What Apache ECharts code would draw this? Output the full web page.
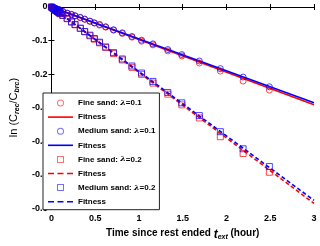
<!DOCTYPE html>
<html><head><meta charset="utf-8">
<script src="https://cdn.jsdelivr.net/npm/echarts@6/dist/echarts.min.js"></script>
<style>html,body{margin:0;padding:0;background:#fff}#c{width:320px;height:246px}</style>
</head><body><div id="c"></div>
<script>
// sample times (hours)
var times = [0, 0.01, 0.02, 0.03, 0.04, 0.05, 0.06, 0.07, 0.08, 0.09, 0.10, 0.13, 0.18, 0.23, 0.27, 0.33, 0.38, 0.44, 0.49, 0.55, 0.62, 0.71, 0.81, 0.92, 1.03, 1.16, 1.33, 1.49, 1.69, 1.93, 2.19, 2.49];
var fine01 = [0, -0.001, -0.002, -0.003, -0.004, -0.005, -0.006, -0.007, -0.008, -0.009, -0.010, -0.014, -0.019, -0.023, -0.027, -0.032, -0.037, -0.043, -0.048, -0.054, -0.060, -0.069, -0.079, -0.090, -0.102, -0.113, -0.131, -0.146, -0.167, -0.191, -0.221, -0.248];
var medium01 = [0, -0.001, -0.002, -0.003, -0.004, -0.005, -0.006, -0.007, -0.008, -0.009, -0.009, -0.013, -0.018, -0.022, -0.026, -0.031, -0.036, -0.042, -0.047, -0.052, -0.059, -0.068, -0.077, -0.088, -0.099, -0.110, -0.127, -0.142, -0.161, -0.184, -0.209, -0.238];
var fine02 = [0, -0.002, -0.004, -0.006, -0.008, -0.010, -0.012, -0.014, -0.016, -0.018, -0.020, -0.025, -0.035, -0.045, -0.053, -0.064, -0.074, -0.086, -0.096, -0.107, -0.121, -0.139, -0.158, -0.180, -0.201, -0.227, -0.260, -0.292, -0.331, -0.387, -0.437, -0.493];
var medium02 = [0, -0.002, -0.004, -0.006, -0.008, -0.010, -0.012, -0.013, -0.015, -0.017, -0.019, -0.025, -0.034, -0.044, -0.052, -0.063, -0.073, -0.084, -0.094, -0.105, -0.119, -0.136, -0.155, -0.176, -0.197, -0.222, -0.255, -0.286, -0.324, -0.372, -0.423, -0.476];
// fitted lines (endpoints)
var fitTimes = [0, 3];
var fitFine01 = [0, -0.292];
var fitMedium01 = [0, -0.286];
var fitFine02 = [0, -0.586];
var fitMedium02 = [0, -0.577];
var xTicks = [0, 0.5, 1, 1.5, 2, 2.5, 3];
var yTicks = [0, -0.1, -0.2, -0.3, -0.4, -0.5, -0.6];
var legendNames = ['Fine sand: {i|λ}=0.1', 'Fitness', 'Medium sand: {i|λ}=0.1', 'Fitness', 'Fine sand: {i|λ}=0.2', 'Fitness', 'Medium sand: {i|λ}=0.2', 'Fitness'];

function pairs(xs, ys){ return xs.map(function(x,i){ return [x, ys[i]]; }); }
var RED = '#ff0000', BLUE = '#0000ff';
var font = 'Liberation Sans, Arial, sans-serif';

var ICON_SOLID = 'path://M0,0H25V1.6H0Z';
var ICON_DASH = 'path://M0,0H6V1.6H0Z M9.5,0H15.5V1.6H9.5Z M19,0H25V1.6H19Z';
var ICON_CIRC = 'path://M3.5,0A3.5,3.5,0,1,1,3.5,7A3.5,3.5,0,1,1,3.5,0Z M3.5,1A2.5,2.5,0,1,0,3.5,6A2.5,2.5,0,1,0,3.5,1Z';
var ICON_SQ = 'path://M0,0H7V7H0Z M1,1V6H6V1Z';

function scat(id, ys, sym, color){
  return {name: id, type: 'scatter', data: pairs(times, ys), symbol: sym, symbolSize: 6,
    itemStyle: {color: 'rgba(0,0,0,0)', borderColor: color, borderWidth: 0.9}, z: 3};
}
function fit(id, ys, color, dashed){
  return {name: id, type: 'line', data: pairs(fitTimes, ys), symbol: 'none', showSymbol: false,
    lineStyle: {color: color, width: 1.6, type: dashed ? [4, 2.5] : 'solid'}, itemStyle: {color: color}, z: 2};
}
var ids = ['s0','s1','s2','s3','s4','s5','s6','s7'];
var icons = [ICON_CIRC, ICON_SOLID, ICON_CIRC, ICON_SOLID, ICON_SQ, ICON_DASH, ICON_SQ, ICON_DASH];
var iconColors = ['rgba(255,0,0,0.7)', RED, 'rgba(0,0,255,0.7)', BLUE, 'rgba(255,0,0,0.7)', RED, 'rgba(0,0,255,0.7)', BLUE];
var labelMap = {}; ids.forEach(function(id,i){ labelMap[id] = legendNames[i]; });

var chart = echarts.init(document.getElementById('c'), null, {renderer: 'canvas'});
var axLabel = {color: '#000', fontFamily: font, fontWeight: 'bold', fontSize: 9};
chart.setOption({
  animation: false,
  backgroundColor: '#fff',
  grid: {left: 41, right: 6, top: 7, bottom: 36, containLabel: false},
  xAxis: [{
    type: 'value', min: xTicks[0], max: xTicks[xTicks.length-1], interval: 0.5, position: 'bottom',
    axisLine: {lineStyle: {color: '#000', width: 1}},
    axisTick: {inside: true, length: 3, lineStyle: {color: '#000'}},
    axisLabel: Object.assign({margin: 6, formatter: function(v){ return String(v); }}, axLabel),
    splitLine: {show: false},
    name: '{b|Time since rest ended }{t|t}{s|ext}{b| (hour)}',
    nameLocation: 'middle', nameGap: 20,
    nameTextStyle: {rich: {
      b: {fontFamily: font, fontWeight: 'bold', fontSize: 10, color: '#000', lineHeight: 12, verticalAlign: 'top'},
      t: {fontFamily: font, fontWeight: 'bold', fontStyle: 'italic', fontSize: 12, color: '#000', lineHeight: 12, verticalAlign: 'top'},
      s: {fontFamily: font, fontWeight: 'bold', fontStyle: 'italic', fontSize: 7, color: '#000', lineHeight: 8, padding: [6,0,0,0]}
    }}
  }, {
    type: 'value', min: 0, max: 3, interval: 0.5, position: 'top',
    axisLine: {lineStyle: {color: '#000', width: 1}},
    axisTick: {inside: true, length: 3, lineStyle: {color: '#000'}},
    axisLabel: {show: false}, splitLine: {show: false}
  }],
  yAxis: [{
    type: 'value', min: yTicks[yTicks.length-1], max: yTicks[0], interval: 0.1, position: 'left',
    axisLine: {lineStyle: {color: '#000', width: 1}},
    axisTick: {inside: true, length: 3, lineStyle: {color: '#000'}},
    axisLabel: Object.assign({margin: 4, formatter: function(v){ return v === 0 ? '0' : String(Math.round(v*10)/10); }}, axLabel),
    splitLine: {show: false},
    name: '{n|ln (C}{s|rec}{n|/C}{s|brc}{n|)}',
    nameLocation: 'middle', nameGap: 26, nameRotate: 90,
    nameTextStyle: {rich: {
      n: {fontFamily: font, fontSize: 11, color: '#000', lineHeight: 12, verticalAlign: 'top'},
      s: {fontFamily: font, fontStyle: 'italic', fontWeight: 'bold', fontSize: 7, color: '#000', lineHeight: 8, padding: [6,0,0,0]}
    }}
  }, {
    type: 'value', min: -0.6, max: 0, interval: 0.1, position: 'right',
    axisLine: {lineStyle: {color: '#000', width: 1}},
    axisTick: {inside: true, length: 3, lineStyle: {color: '#000'}},
    axisLabel: {show: false}, splitLine: {show: false}
  }],
  legend: {
    orient: 'vertical', left: 43, top: 93,
    data: ids.map(function(id,i){ return {name: id, icon: icons[i], itemStyle: {color: iconColors[i], borderWidth: 0}}; }),
    padding: [5, 4, 3, 5],
    itemWidth: 25, itemHeight: 7, itemGap: 4.1, itemTextGap: 2,
    backgroundColor: '#fff', borderColor: '#222', borderWidth: 1,
    formatter: function(name){ return labelMap[name]; },
    textStyle: {fontFamily: font, fontWeight: 'bold', fontSize: 8, color: '#000', lineHeight: 10,
      rich: {i: {fontFamily: 'DejaVu Serif, serif', fontStyle: 'italic', fontWeight: 'bold', fontSize: 8, color: '#000', lineHeight: 10}}}
  },
  series: [
    scat('s0', fine01, 'circle', RED),
    fit('s1', fitFine01, RED, false),
    scat('s2', medium01, 'circle', BLUE),
    fit('s3', fitMedium01, BLUE, false),
    scat('s4', fine02, 'rect', RED),
    fit('s5', fitFine02, RED, true),
    scat('s6', medium02, 'rect', BLUE),
    fit('s7', fitMedium02, BLUE, true)
  ]
});
</script></body></html>
